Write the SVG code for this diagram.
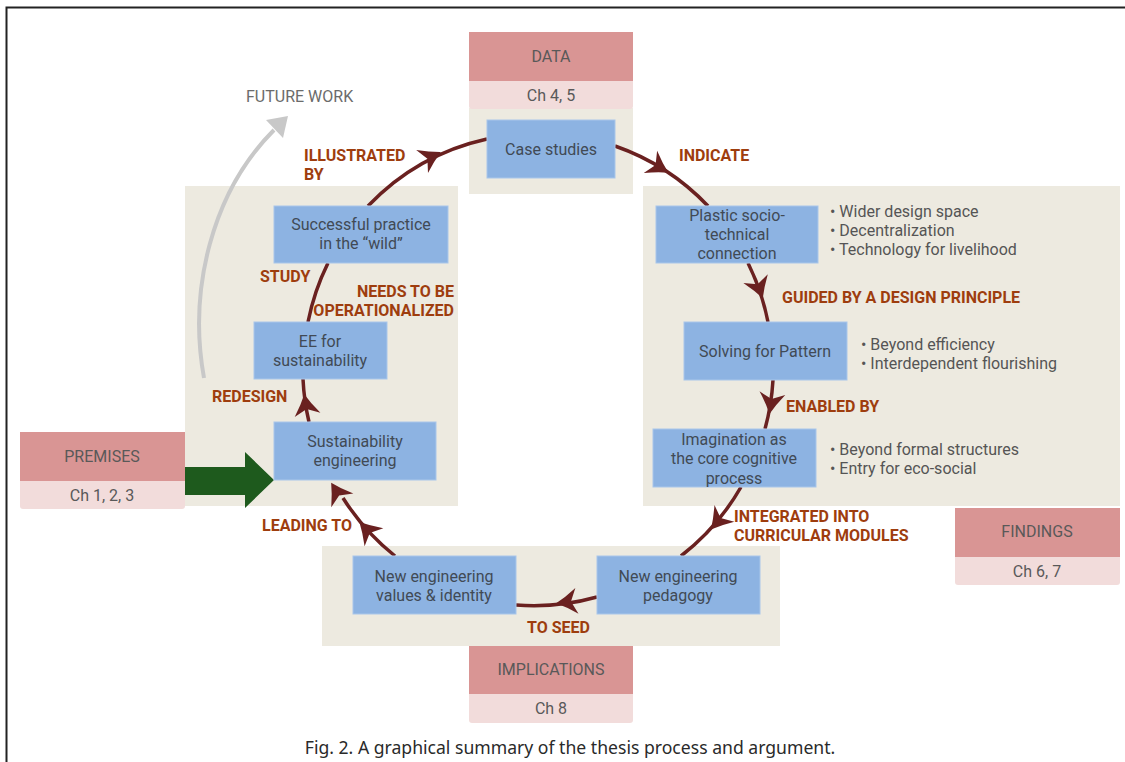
<svg xmlns="http://www.w3.org/2000/svg" width="1125" height="762" viewBox="0 0 1125 762">
  <defs>
    <style>
      .panel { fill: #EDEAE0; }
      .head { fill: #D99594; }
      .chap { fill: #F2DCDB; }
      .node { fill: #8DB3E2; stroke: #A9C6EA; stroke-width: 1; }
      .ntext { font-family: Roboto, "Liberation Sans", sans-serif; font-size: 16px; fill: #414A55; text-anchor: middle; }
      .htext { font-family: Roboto, "Liberation Sans", sans-serif; font-size: 16px; fill: #595959; text-anchor: middle; }
      .btext { font-family: Roboto, "Liberation Sans", sans-serif; font-size: 16px; fill: #555555; }
      .lbl { font-family: Roboto, "Liberation Sans", sans-serif; font-size: 16px; font-weight: bold; fill: #9E3D0E; }
      .cyc { fill: none; stroke: #6A2120; stroke-width: 3.5; }
      .tip { fill: #6A2120; }
    </style>
    <!-- swept chevron head placed on the cycle arcs, pointing along +x -->
    <path id="chev" d="M 11 0 Q 1 -5 -10 -13 L -4 0 L -10 13 Q 1 5 11 0 Z"/>
  </defs>

  <!-- frame -->
  <path d="M 6.5 762 L 6.5 7.5 L 1125 7.5" fill="none" stroke="#222" stroke-width="2"/>

  <!-- background panels -->
  <g id="panels">
    <rect class="panel" x="185" y="186" width="273" height="320"/>
    <rect class="panel" x="469" y="108" width="164" height="86"/>
    <rect class="panel" x="643" y="186" width="477" height="320"/>
    <rect class="panel" x="322" y="546" width="458" height="100"/>
  </g>

  <!-- section headers -->
  <g id="data-header">
    <rect class="chap" x="469" y="78" width="164" height="31" rx="3"/>
    <rect class="head" x="469" y="32" width="164" height="49"/>
    <text class="htext" x="551" y="62">DATA</text>
    <text class="htext" x="551" y="101">Ch 4, 5</text>
  </g>
  <g id="premises-header">
    <rect class="chap" x="20" y="478" width="165" height="31" rx="3"/>
    <rect class="head" x="20" y="432" width="165" height="49"/>
    <text class="htext" x="102" y="462">PREMISES</text>
    <text class="htext" x="102" y="501">Ch 1, 2, 3</text>
  </g>
  <g id="findings-header">
    <rect class="chap" x="955" y="554" width="165" height="31" rx="3"/>
    <rect class="head" x="955" y="508" width="165" height="49"/>
    <text class="htext" x="1037" y="537">FINDINGS</text>
    <text class="htext" x="1037" y="577">Ch 6, 7</text>
  </g>
  <g id="implications-header">
    <rect class="chap" x="469" y="691" width="164" height="32" rx="3"/>
    <rect class="head" x="469" y="646" width="164" height="48"/>
    <text class="htext" x="551" y="675">IMPLICATIONS</text>
    <text class="htext" x="551" y="714">Ch 8</text>
  </g>

  <!-- future work pointer and entry arrow -->
  <g id="future-work">
    <path d="M 204 378 C 188 290 212 192 274 130" fill="none" stroke="#C8C8C8" stroke-width="4"/>
    <path d="M 288 116 L 266 120 L 283 138 Z" fill="#C8C8C8"/>
    <text x="246" y="102" font-family="Roboto, 'Liberation Sans', sans-serif" font-size="16" fill="#6B6B6B">FUTURE WORK</text>
  </g>
  <g id="premises-arrow">
    <path d="M 185 467 L 245 467 L 245 452 L 274 480 L 245 508 L 245 495 L 185 495 Z" fill="#1E5A1D"/>
  </g>

  <!-- cycle connectors -->
  <g id="connectors">
    <path class="cyc" d="M 615 146 A 235 236 0 0 1 708 206"/>
    <path class="cyc" d="M 748 263 A 235 236 0 0 1 768 322"/>
    <path class="cyc" d="M 773 380 A 235 236 0 0 1 765 429"/>
    <path class="cyc" d="M 741 487 A 235 236 0 0 1 681 556"/>
    <path class="cyc" d="M 597 597 A 235 236 0 0 1 516 605"/>
    <path class="cyc" d="M 395 556 A 235 236 0 0 1 343 498"/>
    <path class="cyc" d="M 309 422 A 235 236 0 0 1 303 379"/>
    <path class="cyc" d="M 308 322 A 235 236 0 0 1 328 263"/>
    <path class="cyc" d="M 368 206 A 235 236 0 0 1 487 139"/>
    <use href="#chev" class="tip" transform="translate(659,167) rotate(31)"/>
    <use href="#chev" class="tip" transform="translate(759,288) rotate(70)"/>
    <use href="#chev" class="tip" transform="translate(771,403) rotate(98)"/>
    <use href="#chev" class="tip" transform="translate(718,521) rotate(130)"/>
    <use href="#chev" class="tip" transform="translate(567,602) rotate(173)"/>
    <use href="#chev" class="tip" transform="translate(367,530) rotate(226)"/>
    <use href="#chev" class="tip" transform="translate(337,492) rotate(238)"/>
    <use href="#chev" class="tip" transform="translate(306,405) rotate(261)"/>
    <use href="#chev" class="tip" transform="translate(431,157) rotate(333)"/>
  </g>

  <!-- connector labels -->
  <g id="labels">
    <text class="lbl" x="304" y="161">ILLUSTRATED</text>
    <text class="lbl" x="304" y="180">BY</text>
    <text class="lbl" x="679" y="161">INDICATE</text>
    <text class="lbl" x="782" y="303">GUIDED BY A DESIGN PRINCIPLE</text>
    <text class="lbl" x="786" y="412">ENABLED BY</text>
    <text class="lbl" x="734" y="522">INTEGRATED INTO</text>
    <text class="lbl" x="734" y="541">CURRICULAR MODULES</text>
    <text class="lbl" x="527" y="633">TO SEED</text>
    <text class="lbl" x="262" y="531">LEADING TO</text>
    <text class="lbl" x="212" y="402">REDESIGN</text>
    <text class="lbl" x="260" y="282">STUDY</text>
    <text class="lbl" x="454" y="297" text-anchor="end">NEEDS TO BE</text>
    <text class="lbl" x="454" y="316" text-anchor="end">OPERATIONALIZED</text>
  </g>

  <!-- nodes -->
  <g id="case-studies">
    <rect class="node" x="487" y="120" width="128" height="58"/>
    <text class="ntext" x="551" y="155">Case studies</text>
  </g>
  <g id="successful-practice">
    <rect class="node" x="274" y="206" width="174" height="57"/>
    <text class="ntext" x="361" y="230">Successful practice</text>
    <text class="ntext" x="361" y="249">in the “wild”</text>
  </g>
  <g id="ee-sustainability">
    <rect class="node" x="254" y="322" width="133" height="57"/>
    <text class="ntext" x="320" y="347">EE for</text>
    <text class="ntext" x="320" y="366">sustainability</text>
  </g>
  <g id="sustainability-engineering">
    <rect class="node" x="274" y="422" width="162" height="58"/>
    <text class="ntext" x="355" y="447">Sustainability</text>
    <text class="ntext" x="355" y="466">engineering</text>
  </g>
  <g id="plastic-connection">
    <rect class="node" x="656" y="206" width="162" height="57"/>
    <text class="ntext" x="737" y="221">Plastic socio-</text>
    <text class="ntext" x="737" y="240">technical</text>
    <text class="ntext" x="737" y="259">connection</text>
    <text class="btext" x="830" y="217">• Wider design space</text>
    <text class="btext" x="830" y="236">• Decentralization</text>
    <text class="btext" x="830" y="255">• Technology for livelihood</text>
  </g>
  <g id="solving-for-pattern">
    <rect class="node" x="684" y="322" width="163" height="58"/>
    <text class="ntext" x="765" y="357">Solving for Pattern</text>
    <text class="btext" x="861" y="350">• Beyond efficiency</text>
    <text class="btext" x="861" y="369">• Interdependent flourishing</text>
  </g>
  <g id="imagination">
    <rect class="node" x="653" y="429" width="163" height="58"/>
    <text class="ntext" x="734" y="445">Imagination as</text>
    <text class="ntext" x="734" y="464">the core cognitive</text>
    <text class="ntext" x="734" y="484">process</text>
    <text class="btext" x="830" y="455">• Beyond formal structures</text>
    <text class="btext" x="830" y="474">• Entry for eco-social</text>
  </g>
  <g id="engineering-pedagogy">
    <rect class="node" x="597" y="556" width="163" height="58"/>
    <text class="ntext" x="678" y="582">New engineering</text>
    <text class="ntext" x="678" y="601">pedagogy</text>
  </g>
  <g id="engineering-values">
    <rect class="node" x="353" y="556" width="163" height="58"/>
    <text class="ntext" x="434" y="582">New engineering</text>
    <text class="ntext" x="434" y="601">values &amp; identity</text>
  </g>

  <!-- caption -->
  <text x="570" y="754" text-anchor="middle" font-family="'Noto Sans', 'Open Sans', sans-serif" font-size="17.6" fill="#2A2A2A">Fig. 2. A graphical summary of the thesis process and argument.</text>
</svg>
